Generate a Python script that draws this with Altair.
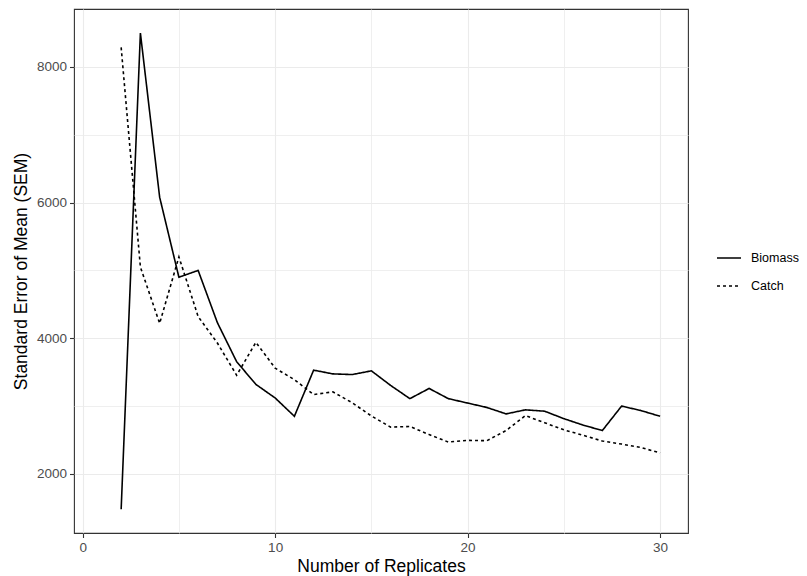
import altair as alt
import pandas as pd

replicates = list(range(2, 31))
biomass = [1480, 8500, 6080, 4900, 5000, 4230, 3655, 3320, 3120, 2850,
           3530, 3475, 3465, 3520, 3305, 3110, 3260, 3110, 3045, 2980,
           2885, 2945, 2925, 2815, 2720, 2640, 3000, 2935, 2850]
catch = [8290, 5050, 4220, 5200, 4320, 3930, 3455, 3940, 3560, 3390,
         3170, 3210, 3050, 2855, 2690, 2700, 2580, 2470, 2495, 2490,
         2640, 2860, 2755, 2650, 2570, 2485, 2440, 2390, 2310]
series_names = ["Biomass", "Catch"]
x_ticks = [0, 5, 10, 15, 20, 25, 30]
y_ticks = [2000, 3000, 4000, 5000, 6000, 7000, 8000]

rows = []
for name, vals in zip(series_names, [biomass, catch]):
    for n, v in zip(replicates, vals):
        rows.append({"n": n, "sem": v, "type": name})
df = pd.DataFrame(rows)

FONT = "Liberation Sans"

chart = alt.Chart(df).mark_line(strokeWidth=1.6, color="black").encode(
    x=alt.X("n:Q",
            scale=alt.Scale(domain=[-0.45, 31.45], nice=False, zero=False),
            axis=alt.Axis(
                title="Number of Replicates",
                values=x_ticks,
                labelExpr="datum.value % 10 === 0 ? datum.label : ''",
                gridWidth={"condition": {"test": "datum.value % 10 === 0", "value": 1.1}, "value": 0.8},
                tickOpacity={"condition": {"test": "datum.value % 10 === 0", "value": 1}, "value": 0},
                titlePadding=3,
            )),
    y=alt.Y("sem:Q",
            scale=alt.Scale(domain=[1129, 8855], nice=False, zero=False),
            axis=alt.Axis(
                title="Standard Error of Mean (SEM)",
                values=y_ticks,
                labelExpr="datum.value % 2000 === 0 ? datum.label : ''",
                format="d",
                gridWidth={"condition": {"test": "datum.value % 2000 === 0", "value": 1.1}, "value": 0.8},
                tickOpacity={"condition": {"test": "datum.value % 2000 === 0", "value": 1}, "value": 0},
                titlePadding=6,
            )),
    strokeDash=alt.StrokeDash("type:N",
                              scale=alt.Scale(domain=series_names, range=[[1, 0], [3, 3]]),
                              legend=alt.Legend(
                                  title=None, orient="none", legendX=642, legendY=236,
                                  symbolType="stroke", symbolSize=576,
                                  symbolStrokeWidth=1.6, symbolStrokeColor="black",
                                  labelFontSize=12.5, labelFont=FONT, labelColor="black",
                                  labelOffset=9, rowPadding=8, padding=0,
                              )),
).properties(
    width=614, height=524,
    autosize=alt.AutoSizeParams(type="none"),
    padding={"left": 66, "top": 1, "right": 111, "bottom": 43},
).configure_view(
    stroke="#333333", strokeWidth=1.1
).configure_axis(
    domain=False,
    gridColor="#EBEBEB",
    tickColor="#333333", tickSize=4.5, tickWidth=1.1,
    labelFont=FONT, labelFontSize=13.5, labelColor="#4D4D4D", labelPadding=3,
    titleFont=FONT, titleFontSize=17.5, titleFontWeight="normal", titleColor="black",
)

chart.save("out.html", embed_options={"renderer": "svg", "actions": False})
